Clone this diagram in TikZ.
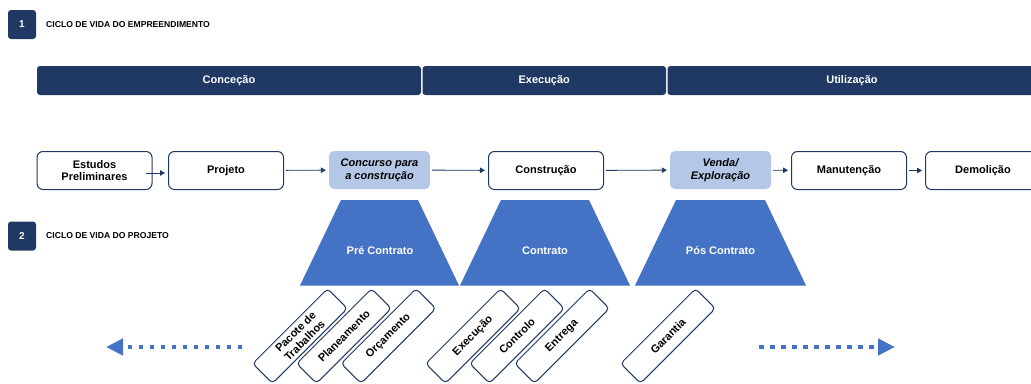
\documentclass[tikz,border=0pt]{standalone}
\usepackage{fontspec}
\setmainfont{Liberation Sans}
\usetikzlibrary{arrows.meta}

\definecolor{navy}{HTML}{203864}
\definecolor{midblue}{HTML}{4472C4}
\definecolor{paleblue}{HTML}{B4C7E7}

\begin{document}
\begin{tikzpicture}[x=1pt,y=-1pt,
  font=\fontsize{11}{12.7}\selectfont\bfseries,
  numbox/.style={fill=navy, rounded corners=3pt, minimum width=28pt,
    minimum height=29pt, text=white, inner sep=0pt,
    font=\fontsize{10}{12}\selectfont\bfseries},
  sectitle/.style={anchor=west, inner sep=0pt,
    font=\fontsize{8.6}{10}\selectfont\bfseries},
  phasebar/.style={fill=navy, rounded corners=3pt, text=white,
    minimum height=29pt, inner sep=0pt},
  stagebox/.style={draw=navy, line width=1pt, fill=white, rounded corners=6pt,
    minimum width=115pt, minimum height=38pt, align=center, inner sep=0pt},
  keybox/.style={fill=paleblue, rounded corners=5pt, minimum width=101pt,
    minimum height=38pt, align=center, inner sep=0pt,
    font=\fontsize{11}{12.7}\selectfont\bfseries\itshape},
  flow/.style={draw=navy, line width=0.9pt,
    -{Triangle[length=5pt,width=5.5pt]}, shorten <=2pt, shorten >=3pt},
  phaseshape/.style={fill=midblue},
  phaselabel/.style={text=white, inner sep=0pt},
  taskbox/.style={draw=navy, line width=1pt, fill=white, rounded corners=4pt,
    minimum width=106pt, minimum height=28pt, rotate=45, align=center,
    inner sep=0pt},
  horizon/.style={draw=midblue, line width=4.5pt,
    dash pattern=on 4.5pt off 6.5pt,
    -{Triangle[length=17pt,width=16pt]}}
]
\useasboundingbox (0,0) rectangle (1031,383);

% section headings
\node[numbox] (n1) at (22,24.5) {1};
\node[sectitle] (t1) at (46,24.5) {CICLO DE VIDA DO EMPREENDIMENTO};
\node[numbox] (n2) at (22,236) {2};
\node[sectitle] (t2) at (46,236) {CICLO DE VIDA DO PROJETO};

% phase bars
\node[phasebar, minimum width=384pt] (pconc) at (229,80.5) {Conceção};
\node[phasebar, minimum width=243.5pt] (pexec) at (544.25,80.5) {Execução};
\node[phasebar, minimum width=369pt] (putil) at (852,80.5) {Utilização};

% stages of the undertaking
\node[stagebox] (est) at (94.5,170.5) {Estudos\\Preliminares};
\node[stagebox] (proj) at (226,170.5) {Projeto};
\node[keybox] (conc) at (379.5,170) {Concurso para\\a construção};
\node[stagebox] (constr) at (546,170.5) {Construção};
\node[keybox] (venda) at (720.5,170) {Venda/\\Exploração};
\node[stagebox] (manut) at (849,170.5) {Manutenção};
\node[stagebox] (demol) at (983,170.5) {Demolição};

\draw[flow, shorten <=0pt] ([shift={(-7pt,-2.5pt)}]est.east) -- ([yshift=-2.5pt]proj.west);
\draw[flow] (proj) -- (conc);
\draw[flow] (conc) -- (constr);
\draw[flow] (constr) -- (venda);
\draw[flow] (venda) -- (manut);
\draw[flow] (manut) -- (demol);

% contract phases
\fill[phaseshape] (341,200) -- (418,200) -- (459,285.5) -- (300,285.5) -- cycle;
\node[phaselabel] (pre) at (380,251) {Pré Contrato};
\fill[phaseshape] (501,200) -- (589,200) -- (630,285.5) -- (460,285.5) -- cycle;
\node[phaselabel] (con) at (545,250.5) {Contrato};
\fill[phaseshape] (676,200) -- (765,200) -- (806,285.5) -- (635,285.5) -- cycle;
\node[phaselabel] (pos) at (720.5,250.5) {Pós Contrato};

% project tasks
\node[taskbox] (pac) at (300,336) {Pacote de\\Trabalhos};
\node[taskbox] (pla) at (344,336) {Planeamento};
\node[taskbox] (orc) at (388.5,336) {Orçamento};
\node[taskbox] (exe) at (473,336) {Execução};
\node[taskbox] (ctl) at (517,336) {Controlo};
\node[taskbox] (ent) at (562,336) {Entrega};
\node[taskbox] (gar) at (668,336) {Garantia};

% time horizon arrows
\coordinate (lstart) at (242,347);
\coordinate (lend) at (106,347);
\coordinate (rstart) at (759,347);
\coordinate (rend) at (895,347);
\draw[horizon] (lstart) -- (lend);
\draw[horizon] (rstart) -- (rend);
\end{tikzpicture}
\end{document}
